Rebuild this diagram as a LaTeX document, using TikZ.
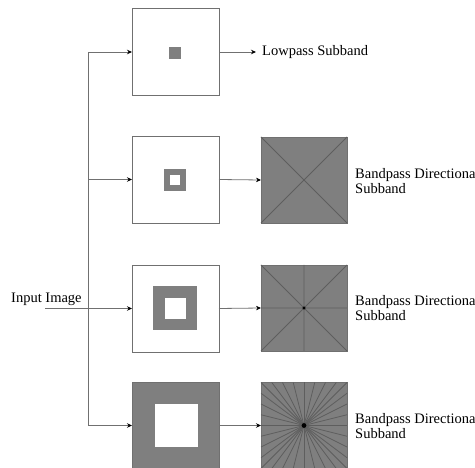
\documentclass[tikz,border=0pt]{standalone}
\usepackage{fontspec}
\setmainfont{Liberation Serif}
\usetikzlibrary{arrows.meta,calc}
\definecolor{fillg}{HTML}{7F7F7F}
\definecolor{lineg}{HTML}{707070}
\definecolor{rayg}{HTML}{5E5E5E}
\tikzset{
  box/.style={draw=lineg, line width=0.8pt, minimum width=87pt, minimum height=87pt, inner sep=0pt, outer sep=0pt},
  dirbox/.style={box, fill=fillg, minimum width=86pt, minimum height=86pt},
  conn/.style={draw=lineg, line width=0.8pt},
  arr/.style={conn, -{Stealth[length=5pt,width=4.5pt,black]}},
  lbl/.style={font=\fontsize{14.5}{15.5}\selectfont, inner sep=0pt, anchor=west, align=left},
  ray/.style={draw=rayg, line width=0.8pt},
  sq/.style={inner sep=0pt, outer sep=0pt, draw=none}
}
\begin{document}
\begin{tikzpicture}[x=1pt,y=-1pt]
\useasboundingbox (0,0) rectangle (475,468);
\clip (0,0) rectangle (475,468);
% filter boxes
\node[box] (f1) at (175.5,52) {};
\node[box] (f2) at (175.5,179.5) {};
\node[box] (f3) at (175.5,308.5) {};
\node[box, fill=fillg] (f4) at (175.5,425.5) {};
% inner shapes
\node[sq, fill=fillg, minimum size=12pt] (s1) at (175,53) {};
\node[sq, fill=fillg, minimum size=22pt] (s2) at (175,180) {};
\node[sq, fill=white, minimum size=10pt] (w2) at (175,180) {};
\node[sq, fill=fillg, minimum size=44pt] (s3) at (175,308.5) {};
\node[sq, fill=white, minimum size=21pt] (w3) at (175.5,308.5) {};
\node[sq, fill=white, minimum size=43pt] (w4) at (176.5,426) {};
% directional boxes
\node[dirbox] (d2) at (304,180) {};
\node[dirbox] (d3) at (304,308) {};
\node[dirbox] (d4) at (304,425.5) {};
% rays
\draw[ray] (d2.north west) -- (d2.south east) (d2.north east) -- (d2.south west);
\draw[ray] (d3.north west) -- (d3.south east) (d3.north east) -- (d3.south west)
  (d3.north) -- (d3.south) (d3.west) -- (d3.east);
\foreach \k in {0,...,7}{
  \draw[ray] ($(d4.north west)!\k/8!(d4.north east)$) -- ($(d4.south east)!\k/8!(d4.south west)$);
  \draw[ray] ($(d4.north east)!\k/8!(d4.south east)$) -- ($(d4.south west)!\k/8!(d4.north west)$);
}
\fill[black] (d3.center) circle (1.6pt);
\fill[black] (d4.center) circle (2.4pt);
% input and branches
\node[lbl] (in) at (11,299) {Input Image};
\coordinate (inl) at (45,308.5);
\coordinate (b1) at (88,52);
\coordinate (b2) at (88,179.5);
\coordinate (b4) at (88,425.5);
\draw[conn] (b1) -- (b4);
\draw[arr] (inl) -- (f3.west);
\draw[arr] (b1) -- (f1.west);
\draw[arr] (b2) -- (f2.west);
\draw[arr] (b4) -- (f4.west);
% outputs
\node[lbl] (lp) at (262,52) {Lowpass Subband};
\coordinate (lpe) at (256,52);
\draw[arr] (f1.east) -- (lpe);
\draw[arr] (f2.east) -- (d2.west);
\draw[arr] (f3.east) -- (d3.west);
\draw[arr] (f4.east) -- (d4.west);
\node[lbl] (t2) at (355,181) {Bandpass Directional\\Subband};
\node[lbl] (t3) at (355,308) {Bandpass Directional\\Subband};
\node[lbl] (t4) at (355,426) {Bandpass Directional\\Subband};
\end{tikzpicture}
\end{document}
